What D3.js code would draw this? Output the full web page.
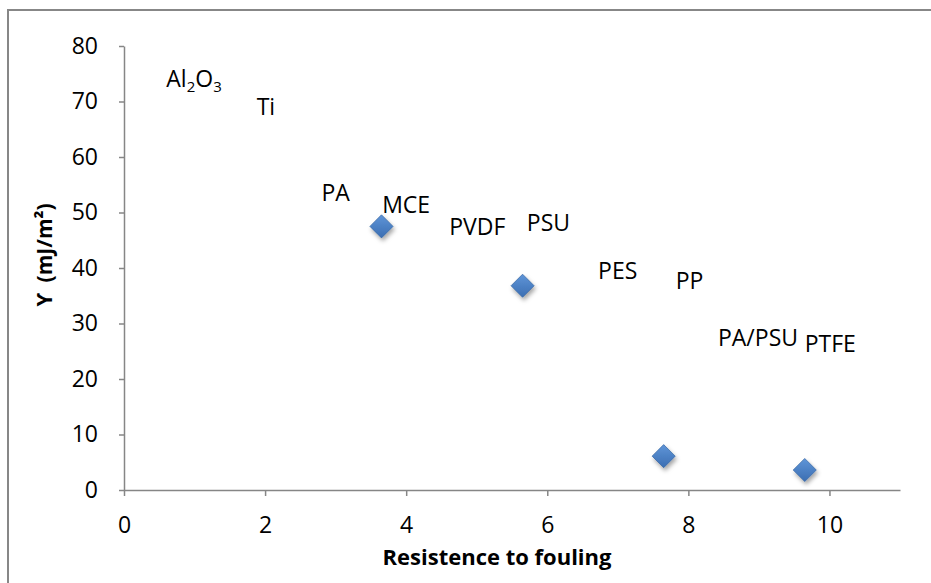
<!DOCTYPE html>
<html>
<head>
<meta charset="utf-8">
<script src="https://cdn.jsdelivr.net/npm/d3@7"></script>
<style>
  body { margin: 0; background: #fff; }
  text { font-family: "Open Sans", "DejaVu Sans", sans-serif; fill: #000; }
</style>
</head>
<body>
<div id="chart"></div>
<script>
const width = 931;
const height = 583;

// measured points (diamonds)
const pointX = [3.65, 5.65, 7.65, 9.65];
const pointY = [47.5, 36.8, 6.1, 3.6];

// membrane labels, placed at their own (x, y) in data units
const labelNames = ["Al2O3", "Ti", "PA", "MCE", "PVDF", "PSU", "PES", "PP", "PA/PSU", "PTFE"];
const labelX = [0.60, 1.88, 2.80, 3.66, 4.61, 5.71, 6.72, 7.82, 8.42, 9.65];
const labelY = [72.7, 67.5, 52.0, 50.0, 46.0, 46.7, 38.0, 36.2, 26.0, 24.8];

const xTicks = [0, 2, 4, 6, 8, 10];
const yTicks = [0, 10, 20, 30, 40, 50, 60, 70, 80];

const x = d3.scaleLinear().domain([0, 11]).range([124, 900]);
const y = d3.scaleLinear().domain([0, 80]).range([490, 46]);

const svg = d3.select('#chart').append('svg')
    .attr('width', width)
    .attr('height', height);

const defs = svg.append('defs');
const grad = defs.append('linearGradient')
    .attr('id', 'dgrad')
    .attr('x1', 0).attr('y1', 0).attr('x2', 0).attr('y2', 1);
grad.append('stop').attr('offset', '0%').attr('stop-color', '#5f95d8');
grad.append('stop').attr('offset', '100%').attr('stop-color', '#3b6eb2');

const shadow = defs.append('filter')
    .attr('id', 'shadow')
    .attr('x', '-50%').attr('y', '-50%')
    .attr('width', '200%').attr('height', '200%');
shadow.append('feDropShadow')
    .attr('dx', 1.5).attr('dy', 3)
    .attr('stdDeviation', 2)
    .attr('flood-color', '#000')
    .attr('flood-opacity', 0.35);

// chart frame
svg.append('rect')
    .attr('x', 8)
    .attr('y', 10)
    .attr('width', 1000)
    .attr('height', 700)
    .attr('fill', 'none')
    .attr('stroke', '#878787')
    .attr('stroke-width', 2);

// axes
svg.append('g')
    .attr('transform', 'translate(' + x(0) + ',0)')
    .call(d3.axisLeft(y).tickValues(yTicks).tickSize(5).tickSizeOuter(0).tickPadding(21));

svg.append('g')
    .attr('transform', 'translate(0,' + y(0) + ')')
    .call(d3.axisBottom(x).tickValues(xTicks).tickSize(6).tickSizeOuter(0).tickPadding(21));

svg.selectAll('.domain, .tick line')
    .attr('stroke', '#868686')
    .attr('stroke-width', 1.5);
svg.selectAll('.tick text')
    .style('font-size', '23px')
    .style('font-family', '"Open Sans", sans-serif')
    .attr('fill', '#000');

// axis titles
svg.append('text')
    .attr('x', 497)
    .attr('y', 565)
    .attr('text-anchor', 'middle')
    .style('font-size', '22px')
    .style('font-weight', 'bold')
    .text('Resistence to fouling');

svg.append('text')
    .attr('transform', 'translate(52,255) rotate(-90)')
    .attr('text-anchor', 'middle')
    .style('font-size', '21px')
    .style('font-weight', 'bold')
    .text('\u03D2\u00A0\u00A0(mJ/m\u00B2)');

// labels
const labels = svg.append('g');
labelNames.forEach(function (name, i) {
    const t = labels.append('text')
        .attr('x', x(labelX[i]))
        .attr('y', y(labelY[i]))
        .style('font-size', '23px');
    if (name === 'Al2O3') {
        t.append('tspan').text('Al');
        t.append('tspan').attr('dy', 5).style('font-size', '15px').text('2');
        t.append('tspan').attr('dy', -5).text('O');
        t.append('tspan').attr('dy', 5).style('font-size', '15px').text('3');
    } else {
        t.text(name);
    }
});

// diamonds
const diamond = d3.symbol().type(d3.symbolDiamond2).size(340);
svg.append('g')
    .selectAll('path')
    .data(pointX)
    .enter().append('path')
    .attr('transform', (d, i) => 'translate(' + x(d) + ',' + y(pointY[i]) + ')')
    .attr('d', diamond)
    .attr('fill', 'url(#dgrad)')
    .attr('stroke', '#3a69a6')
    .attr('stroke-width', 0.75)
    .attr('filter', 'url(#shadow)');
</script>
</body>
</html>
